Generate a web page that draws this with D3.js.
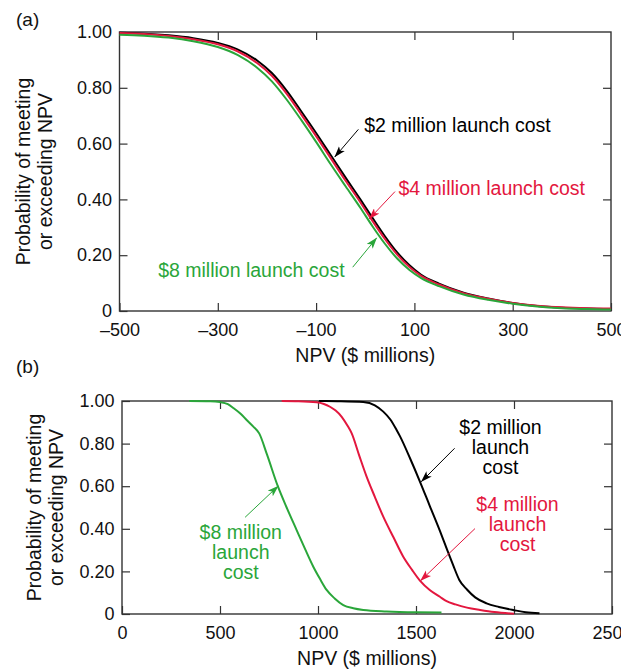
<!DOCTYPE html>
<html>
<head>
<meta charset="utf-8">
<script src="https://cdn.jsdelivr.net/npm/d3@7"></script>
<style>
  html, body { margin: 0; padding: 0; background: #fff; }
  svg { display: block; }
  text { font-family: "Liberation Sans", Arial, Helvetica, sans-serif; }
</style>
</head>
<body>
<svg id="chart" width="621" height="672"></svg>
<script>
// ---- Panel (a): NPV distribution for launch costs, wide range ----
const npvA = [-500, -450, -400, -350, -300, -260, -220, -190, -160, -130, -100, -70, -40, -10, 15, 40, 65, 90, 113, 150, 200, 250, 300, 350, 400, 450, 500];
const probA2 = [0.997, 0.994, 0.988, 0.978, 0.961, 0.938, 0.898, 0.853, 0.790, 0.715, 0.638, 0.558, 0.478, 0.400, 0.333, 0.268, 0.210, 0.164, 0.131, 0.098, 0.066, 0.045, 0.029, 0.018, 0.012, 0.009, 0.007];
const probA4 = [0.996, 0.993, 0.986, 0.974, 0.956, 0.931, 0.889, 0.843, 0.779, 0.704, 0.627, 0.547, 0.467, 0.390, 0.322, 0.258, 0.202, 0.158, 0.127, 0.095, 0.064, 0.044, 0.029, 0.019, 0.013, 0.010, 0.009];
const probA8 = [0.990, 0.987, 0.980, 0.967, 0.946, 0.918, 0.872, 0.823, 0.758, 0.684, 0.606, 0.525, 0.447, 0.370, 0.303, 0.241, 0.188, 0.147, 0.119, 0.089, 0.059, 0.040, 0.026, 0.016, 0.010, 0.007, 0.005];
const xTicksA = [-500, -300, -100, 100, 300, 500];

// ---- Panel (b): NPV distribution for launch costs, positive range ----
const npvB2 = [1005, 1100, 1231, 1290, 1333, 1370, 1401, 1418, 1470, 1520, 1570, 1622, 1661, 1690, 1721, 1760, 1802, 1860, 1923, 2000, 2060, 2130];
const probB2 = [1.0, 0.999, 0.995, 0.980, 0.950, 0.912, 0.864, 0.835, 0.730, 0.622, 0.508, 0.390, 0.296, 0.228, 0.160, 0.115, 0.078, 0.050, 0.033, 0.018, 0.008, 0.003];
const npvB4 = [815, 900, 993, 1030, 1061, 1090, 1121, 1150, 1172, 1210, 1248, 1290, 1333, 1385, 1435, 1480, 1520, 1570, 1622, 1656, 1701, 1760, 1827, 1900, 2000];
const probB4 = [1.0, 0.999, 0.994, 0.986, 0.973, 0.955, 0.926, 0.885, 0.848, 0.745, 0.645, 0.550, 0.457, 0.360, 0.269, 0.207, 0.157, 0.113, 0.081, 0.060, 0.045, 0.030, 0.019, 0.009, 0.001];
const npvB8 = [343, 450, 500, 540, 570, 605, 636, 670, 700, 740, 795, 840, 891, 935, 976, 1010, 1044, 1085, 1129, 1180, 1231, 1350, 1503, 1630];
const probB8 = [1.0, 0.999, 0.995, 0.985, 0.966, 0.940, 0.911, 0.880, 0.848, 0.748, 0.600, 0.500, 0.394, 0.303, 0.222, 0.165, 0.113, 0.073, 0.042, 0.027, 0.019, 0.012, 0.008, 0.007];
const xTicksB = [0, 500, 1000, 1500, 2000, 2500];

const yTicks = [0, 0.2, 0.4, 0.6, 0.8, 1.0];
const seriesNames = ["$2 million launch cost", "$4 million launch cost", "$8 million launch cost"];
const colors = ["#000000", "#e3173e", "#2aa63a"];

const svg = d3.select("#chart");
svg.append("rect").attr("width", 621).attr("height", 672).attr("fill", "#fff");

// arrowhead markers, one per colour
const defs = svg.append("defs");
colors.forEach((c, i) => {
  defs.append("marker")
    .attr("id", "arrow" + i)
    .attr("markerUnits", "userSpaceOnUse")
    .attr("viewBox", "0 -4 12 8")
    .attr("refX", 11).attr("refY", 0)
    .attr("markerWidth", 12).attr("markerHeight", 8)
    .attr("orient", "auto")
    .append("path")
    .attr("d", "M0,-3.8L11.5,0L0,3.8L2.8,0Z")
    .attr("fill", c);
});

const yFmt = d => d === 0 ? "0" : d3.format(".2f")(d);
const xFmtA = d => d < 0 ? "\u2013" + Math.abs(d) : String(d);

function drawPanel(cfg) {
  const { x, y, xTicks, xFmt, label, labelY, titleX1, titleX2 } = cfg;
  const g = svg.append("g");
  const [x0, x1] = x.range();
  const [y0, y1] = y.range();
  const inner = xTicks.slice(1, -1);
  const innerY = yTicks.slice(1, -1);

  // bottom axis with labels, ticks pointing inwards
  g.append("g").attr("transform", `translate(0,${y0})`)
    .call(d3.axisBottom(x).tickValues(xTicks).tickFormat(xFmt).tickSizeInner(-8).tickSizeOuter(0).tickPadding(12))
    .call(a => a.select(".domain").remove())
    .call(a => a.selectAll(".tick line").attr("stroke", "#333").attr("stroke-width", 1.2))
    .call(a => a.selectAll("text").attr("font-size", 18).attr("fill", "#111").attr("font-family", "Liberation Sans, Arial, sans-serif"));
  // top ticks
  g.append("g").attr("transform", `translate(0,${y1})`)
    .call(d3.axisTop(x).tickValues(inner).tickFormat("").tickSizeInner(-8).tickSizeOuter(0))
    .call(a => a.select(".domain").remove())
    .call(a => a.selectAll(".tick line").attr("stroke", "#333").attr("stroke-width", 1.2));
  // left axis with labels
  g.append("g").attr("transform", `translate(${x0},0)`)
    .call(d3.axisLeft(y).tickValues(yTicks).tickFormat(yFmt).tickSizeInner(-8).tickSizeOuter(0).tickPadding(7.5))
    .call(a => a.select(".domain").remove())
    .call(a => a.selectAll(".tick line").attr("stroke", "#333").attr("stroke-width", 1.2))
    .call(a => a.selectAll("text").attr("font-size", 18).attr("fill", "#111").attr("font-family", "Liberation Sans, Arial, sans-serif"));
  // right ticks
  g.append("g").attr("transform", `translate(${x1},0)`)
    .call(d3.axisRight(y).tickValues(innerY).tickFormat("").tickSizeInner(-8).tickSizeOuter(0))
    .call(a => a.select(".domain").remove())
    .call(a => a.selectAll(".tick line").attr("stroke", "#333").attr("stroke-width", 1.2));

  // frame
  g.append("rect")
    .attr("x", x0).attr("y", y1)
    .attr("width", x1 - x0).attr("height", y0 - y1)
    .attr("fill", "none").attr("stroke", "#333").attr("stroke-width", 1.4);

  // axis titles
  g.append("text")
    .attr("x", (x0 + x1) / 2).attr("y", y0 + 51)
    .attr("text-anchor", "middle").attr("font-size", 19.5).attr("fill", "#111")
    .text("NPV ($ millions)");
  const cy = (y0 + y1) / 2;
  g.append("text")
    .attr("transform", `translate(${titleX1},${cy}) rotate(-90)`)
    .attr("text-anchor", "middle").attr("font-size", 19.5).attr("fill", "#111")
    .text("Probability of meeting");
  g.append("text")
    .attr("transform", `translate(${titleX2},${cy}) rotate(-90)`)
    .attr("text-anchor", "middle").attr("font-size", 19.5).attr("fill", "#111")
    .text("or exceeding NPV");

  // panel letter
  g.append("text").attr("x", 16).attr("y", labelY)
    .attr("font-size", 19).attr("fill", "#111").text(label);
  return g;
}

function drawCurves(g, x, y, series) {
  const line = d3.line().x(d => x(d[0])).y(d => y(d[1])).curve(d3.curveMonotoneX);
  series.forEach(s => {
    g.append("path")
      .datum(d3.zip(s.npv, s.prob))
      .attr("d", line)
      .attr("fill", "none")
      .attr("stroke", s.color)
      .attr("stroke-width", 2)
      .attr("stroke-linejoin", "round");
  });
}

function drawNote(g, x, y, note) {
  g.append("line")
    .attr("x1", x(note.from[0])).attr("y1", y(note.from[1]))
    .attr("x2", x(note.to[0])).attr("y2", y(note.to[1]))
    .attr("stroke", colors[note.idx]).attr("stroke-width", 1)
    .attr("marker-end", `url(#arrow${note.idx})`);
  const t = g.append("text")
    .attr("x", x(note.at[0])).attr("y", y(note.at[1]))
    .attr("text-anchor", note.anchor)
    .attr("font-size", 19.5).attr("fill", colors[note.idx]);
  note.lines.forEach((ln, i) => {
    t.append("tspan").attr("x", x(note.at[0])).attr("dy", i === 0 ? 0 : 20).text(ln);
  });
}

// ---- panel (a) ----
const xA = d3.scaleLinear().domain([-500, 500]).range([119.5, 611]);
const yA = d3.scaleLinear().domain([0, 1]).range([311, 32]);
const gA = drawPanel({ x: xA, y: yA, xTicks: xTicksA, xFmt: xFmtA, label: "(a)", labelY: 26, titleX1: 29.5, titleX2: 51.5 });
drawCurves(gA, xA, yA, [
  { npv: npvA, prob: probA2, color: colors[0] },
  { npv: npvA, prob: probA4, color: colors[1] },
  { npv: npvA, prob: probA8, color: colors[2] }
]);
[
  { idx: 0, from: [-14, 0.651], to: [-62, 0.552], at: [-2, 0.642], anchor: "start", lines: [seriesNames[0]] },
  { idx: 1, from: [60.5, 0.428], to: [8, 0.33], at: [67.6, 0.416], anchor: "start", lines: [seriesNames[1]] },
  { idx: 2, from: [-25.5, 0.157], to: [23.3, 0.262], at: [-42, 0.122], anchor: "end", lines: [seriesNames[2]] }
].forEach(n => drawNote(gA, xA, yA, n));

// ---- panel (b) ----
const xB = d3.scaleLinear().domain([0, 2500]).range([122, 612]);
const yB = d3.scaleLinear().domain([0, 1]).range([614, 401]);
const gB = drawPanel({ x: xB, y: yB, xTicks: xTicksB, xFmt: d => String(d), label: "(b)", labelY: 373, titleX1: 40.5, titleX2: 62.5 });
drawCurves(gB, xB, yB, [
  { npv: npvB2, prob: probB2, color: colors[0] },
  { npv: npvB4, prob: probB4, color: colors[1] },
  { npv: npvB8, prob: probB8, color: colors[2] }
]);
const splitName = s => { const w = s.split(" "); return [w.slice(0, 2).join(" "), w[2], w[3]]; };
[
  { idx: 0, from: [1697, 0.778], to: [1527, 0.621], at: [1931, 0.845], anchor: "middle", lines: splitName(seriesNames[0]) },
  { idx: 1, from: [1801, 0.401], to: [1523, 0.156], at: [2018, 0.484], anchor: "middle", lines: splitName(seriesNames[1]) },
  { idx: 2, from: [628, 0.454], to: [797, 0.601], at: [606, 0.352], anchor: "middle", lines: splitName(seriesNames[2]) }
].forEach(n => drawNote(gB, xB, yB, n));
</script>
</body>
</html>
